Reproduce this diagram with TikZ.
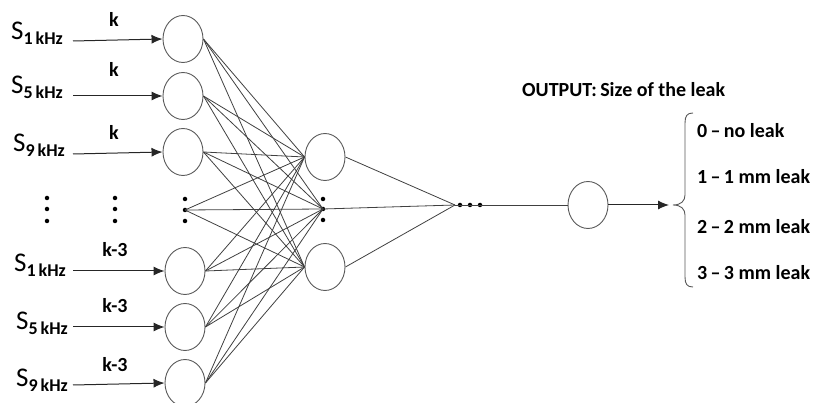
\documentclass[tikz,border=0pt]{standalone}
\usepackage{fontspec}
\setmainfont{Carlito}
\usetikzlibrary{shapes.geometric,arrows.meta}
\tikzset{
  neuron/.style={ellipse,draw=black!65,line width=0.9pt,minimum width=40pt,minimum height=47pt,inner sep=0pt},
  dotn/.style={circle,fill=black,minimum size=4.5pt,inner sep=0pt},
  conn/.style={draw=black!75,line width=0.8pt},
  inarrow/.style={draw=black!85,line width=1pt,-{Latex[length=11pt,width=9pt]}},
  slabel/.style={anchor=base west,inner sep=0pt},
  klabel/.style={anchor=base,inner sep=0pt,font=\fontsize{20}{20}\selectfont\bfseries},
  olabel/.style={anchor=base west,inner sep=0pt,font=\fontsize{20}{20}\selectfont\bfseries}
}
\newcommand{\sig}[1]{{\fontsize{27}{27}\selectfont S}\raisebox{-5pt}{\fontsize{18}{18}\selectfont\bfseries #1\,kHz}}
\newcommand{\dsh}{\,–\,}
\begin{document}
\begin{tikzpicture}[x=1pt,y=-1pt]
\useasboundingbox (0,0) rectangle (817,403);
% input neurons
\node[neuron] (i1) at (183,39) {};
\node[neuron] (i2) at (183,96) {};
\node[neuron] (i3) at (183,152) {};
\node[neuron] (i4) at (185,271) {};
\node[neuron] (i5) at (185,327) {};
\node[neuron] (i6) at (185,383) {};
\node[dotn] (id) at (185,210) {};
\node[dotn] (idu) at (185,199) {};
\node[dotn] (idl) at (185,221) {};
% hidden neurons
\node[neuron] (h1) at (325,157) {};
\node[neuron] (h2) at (325,267) {};
\node[dotn] (hd) at (323,209) {};
\node[dotn] (hdu) at (323,199) {};
\node[dotn] (hdl) at (323,220) {};
% output
\coordinate (cv) at (455,205);
\node[dotn] (o1) at (460,205) {};
\node[dotn] (o2) at (470,205) {};
\node[dotn] (o3) at (480,205) {};
\node[neuron] (out) at (588,205) {};
\coordinate (tip) at (669,205);
% full connections
\foreach \a in {i1,i2,i3,i4,i5,i6}{
  \draw[conn] (\a.east) -- (h1.west);
  \draw[conn] (\a.east) -- (hd.center);
  \draw[conn] (\a.east) -- (h2.west);
}
\draw[conn] (id.center) -- (h1.west);
\draw[conn] (id.center) -- (hd.center);
\draw[conn] (id.center) -- (h2.west);
\draw[conn] (h1.east) -- (cv);
\draw[conn] (hd.center) -- (cv);
\draw[conn] (h2.east) -- (cv);
\draw[conn] (cv) -- (out.west);
\draw[inarrow] (out.east) -- (tip);
% input arrows and labels
\coordinate (s1) at (73,41);
\coordinate (s2) at (73,96);
\coordinate (s3) at (73,154);
\coordinate (s4) at (73,271);
\coordinate (s5) at (73,327);
\coordinate (s6) at (73,385);
\draw[inarrow] (s1) -- (i1.west);
\draw[inarrow] (s2) -- (i2.west);
\draw[inarrow] (s3) -- (i3.west);
\draw[inarrow] (s4) -- (i4.west);
\draw[inarrow] (s5) -- (i5.west);
\draw[inarrow] (s6) -- (i6.west);
\node[slabel] (l1) at (11,40) {\sig{1}};
\node[slabel] (l2) at (11,94) {\sig{5}};
\node[slabel] (l3) at (13,152) {\sig{9}};
\node[slabel] (l4) at (14,272) {\sig{1}};
\node[slabel] (l5) at (16,330) {\sig{5}};
\node[slabel] (l6) at (16,387) {\sig{9}};
\node[klabel] (k1) at (114,27) {k};
\node[klabel] (k2) at (114,77) {k};
\node[klabel] (k3) at (114,140) {k};
\node[klabel] (k4) at (115,257) {k-3};
\node[klabel] (k5) at (115,313) {k-3};
\node[klabel] (k6) at (115,371) {k-3};
% left dots
\foreach \x/\n in {47/a,115/b}{
  \node[dotn] (d\n1) at (\x,198) {};
  \node[dotn] (d\n2) at (\x,209) {};
  \node[dotn] (d\n3) at (\x,221) {};
}
% output labels
\node[olabel] (ot) at (522,97) {OUTPUT:\,Size of the leak};
\node[olabel] (c0) at (697,138) {0\dsh no leak};
\node[olabel] (c1) at (697,184) {1\dsh 1 mm leak};
\node[olabel] (c2) at (697,234) {2\dsh 2 mm leak};
\node[olabel] (c3) at (697,280) {3\dsh 3 mm leak};
% brace
\draw[draw=black!65,line width=0.9pt]
  (693,113) .. controls (687,113) and (685,116) .. (685,123)
  -- (685,195) .. controls (685,201) and (681,205) .. (673,205)
  .. controls (681,205) and (685,209) .. (685,215)
  -- (685,277) .. controls (685,284) and (687,287) .. (693,287);
\end{tikzpicture}
\end{document}
